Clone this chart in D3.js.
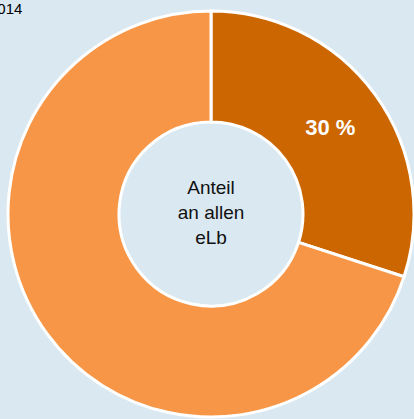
<!DOCTYPE html>
<html><head><meta charset="utf-8">
<script src="https://cdn.jsdelivr.net/npm/d3@7"></script>
<style>html,body{margin:0;padding:0;background:#dae8f2;overflow:hidden}</style>
</head><body><svg id="c" width="414" height="419"></svg>
<script>
const categories = ["eLb an allen", "übrige"];
const values = [30, 70];
const labels = ["30 %", ""];
const colors = ["#cc6600", "#f79646"];
const centerLines = ["Anteil", "an allen", "eLb"];
const titleText = "2014";

const svg = d3.select("#c");
const cx = 211, cy = 214, rOuter = 203, rInner = 92;
svg.append("text").attr("x", -11).attr("y", 14)
  .attr("font-family", "Arial, Liberation Sans, sans-serif").attr("font-size", 15)
  .attr("fill", "#000").text(titleText);

const pie = d3.pie().sort(null).value(d => d)(values);
const arc = d3.arc().innerRadius(rInner).outerRadius(rOuter);
const g = svg.append("g").attr("transform", `translate(${cx},${cy})`);
g.selectAll("path").data(pie).join("path")
  .attr("d", arc).attr("fill", (d, i) => colors[i])
  .attr("stroke", "#fff").attr("stroke-width", 3);
g.selectAll("text.lbl").data(pie).join("text").attr("class", "lbl")
  .attr("transform", d => `translate(${arc.centroid(d)})`)
  .attr("text-anchor", "middle").attr("dy", "0.36em")
  .attr("font-family", "Arial, Liberation Sans, sans-serif")
  .attr("font-size", 22).attr("font-weight", "bold").attr("fill", "#fff")
  .text((d, i) => labels[i]);
g.selectAll("text.ctr").data(centerLines).join("text").attr("class", "ctr")
  .attr("x", 0).attr("y", (d, i) => -20 + i * 25)
  .attr("text-anchor", "middle")
  .attr("font-family", "Arial, Liberation Sans, sans-serif")
  .attr("font-size", 19).attr("fill", "#111").text(d => d);
</script></body></html>
